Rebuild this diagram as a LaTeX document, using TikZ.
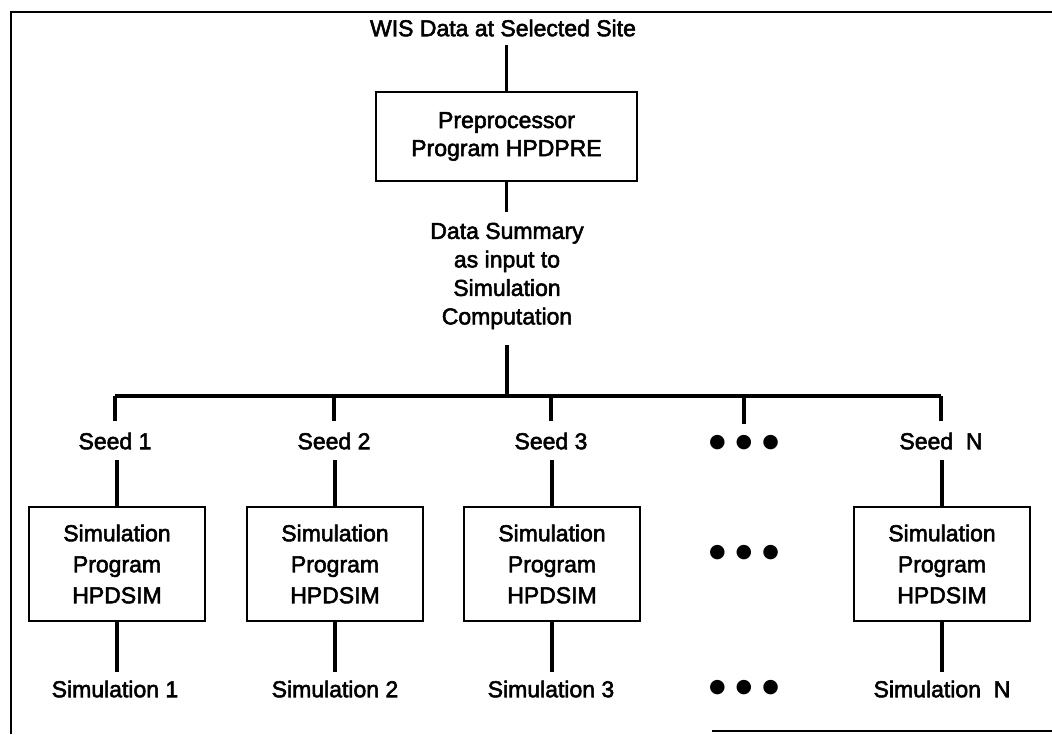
\documentclass[tikz,border=0pt]{standalone}
\usepackage{fontspec}
\setmainfont{Liberation Sans}[FakeBold=2.4]
\newfontfamily\symfont{DejaVu Sans}
\begin{document}
\begin{tikzpicture}[x=1pt,y=-1pt,
  lbl/.style={font=\fontsize{23}{28.5}\selectfont, align=center, inner sep=0pt, outer sep=0pt},
  box/.style={draw, line width=2.6pt, font=\fontsize{23}{31}\selectfont, align=center, inner sep=0pt, minimum width=176pt, minimum height=114pt},
  conn/.style={line width=3.6pt},
  frame/.style={line width=2.6pt},
  dotsnode/.style={font=\symfont\fontsize{19}{19}\selectfont, inner sep=0pt}
]
\useasboundingbox (0,0) rectangle (1052,734);
% frame
\draw[frame] (11,734) -- (11,12) -- (1052,12);
\draw[frame] (712,731) -- (1052,731);

% top part
\node[lbl] (wis) at (503,28) {WIS Data at Selected Site};
\node[box, minimum width=261pt, minimum height=89pt, font=\fontsize{23}{28}\selectfont] (pre) at (506.5,136.5) {Preprocessor\\Program HPDPRE};
\node[lbl] (sum) at (507,276) {Data Summary\\as input to\\Simulation\\Computation};
\coordinate (busc) at (507,396);

\draw[conn] (pre.north) -- ([yshift=-9pt]wis.south -| pre.north);
\draw[conn] (pre.south) -- ([yshift=11pt]sum.north -| pre.south);
\draw[conn] ([yshift=-16pt]sum.south -| busc) -- (busc);

% seeds
\node[lbl] (seed1) at (115,441) {Seed 1};
\node[lbl] (seed2) at (334,441) {Seed 2};
\node[lbl] (seed3) at (551,441) {Seed 3};
\node[dotsnode] (dots1) at (744,443) {●\hspace{10pt}●\hspace{10pt}●};
\node[lbl] (seedN) at (941,441) {Seed\ \ N};

\draw[conn] (seed1.north |- busc) -- (seedN.north |- busc);
\foreach \n in {seed1,seed2,seed3,dots1,seedN}{
  \draw[conn] (\n.north |- busc) -- ([yshift=12pt]\n.north);
}

% simulation boxes
\node[box] (sim1) at (117,564) {Simulation\\Program\\HPDSIM};
\node[box] (sim2) at (335,564) {Simulation\\Program\\HPDSIM};
\node[box] (sim3) at (552,564) {Simulation\\Program\\HPDSIM};
\node[dotsnode] (dots2) at (744,553) {●\hspace{10pt}●\hspace{10pt}●};
\node[box] (simN) at (942,564) {Simulation\\Program\\HPDSIM};

\foreach \s/\b in {seed1/sim1,seed2/sim2,seed3/sim3,seedN/simN}{
  \draw[conn] ([yshift=-11pt]\s.south -| \b.north) -- (\b.north);
}

% results
\node[lbl] (res1) at (115,689) {Simulation 1};
\node[lbl] (res2) at (335,689) {Simulation 2};
\node[lbl] (res3) at (551,689) {Simulation 3};
\node[dotsnode] (dots3) at (744,688) {●\hspace{10pt}●\hspace{10pt}●};
\node[lbl] (resN) at (942,689) {Simulation\ \ N};

\foreach \b/\r in {sim1/res1,sim2/res2,sim3/res3,simN/resN}{
  \draw[conn] (\b.south) -- ([yshift=9pt]\r.north -| \b.south);
}
\end{tikzpicture}
\end{document}
